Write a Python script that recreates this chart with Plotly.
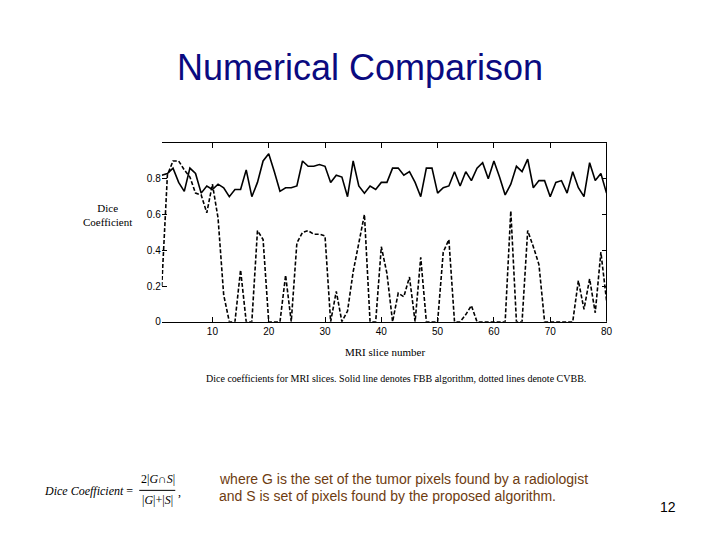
import plotly.graph_objects as go

slices = list(range(1, 81))
fbb = [0.82, 0.83, 0.86, 0.78, 0.73, 0.86, 0.83, 0.72, 0.76, 0.74,
       0.77, 0.75, 0.70, 0.74, 0.74, 0.85, 0.70, 0.78, 0.90, 0.94,
       0.84, 0.73, 0.75, 0.75, 0.76, 0.90, 0.87, 0.87, 0.88, 0.87,
       0.78, 0.82, 0.81, 0.70, 0.90, 0.76, 0.72, 0.76, 0.74, 0.78,
       0.78, 0.86, 0.86, 0.82, 0.84, 0.78, 0.70, 0.86, 0.86, 0.72,
       0.75, 0.76, 0.84, 0.76, 0.84, 0.79, 0.86, 0.89, 0.80, 0.90,
       0.81, 0.71, 0.77, 0.87, 0.84, 0.91, 0.75, 0.79, 0.79, 0.70,
       0.78, 0.79, 0.72, 0.84, 0.75, 0.70, 0.89, 0.79, 0.83, 0.72]
cvbb = [0.20, 0.82, 0.90, 0.90, 0.85, 0.81, 0.72, 0.71, 0.61, 0.77,
        0.58, 0.15, 0.00, 0.00, 0.29, 0.00, 0.00, 0.51, 0.46, 0.00,
        0.00, 0.00, 0.26, 0.00, 0.44, 0.50, 0.51, 0.49, 0.49, 0.48,
        0.00, 0.17, 0.00, 0.06, 0.28, 0.45, 0.60, 0.00, 0.00, 0.42,
        0.27, 0.00, 0.16, 0.14, 0.25, 0.00, 0.36, 0.00, 0.00, 0.00,
        0.39, 0.46, 0.00, 0.00, 0.04, 0.09, 0.00, 0.00, 0.00, 0.00,
        0.00, 0.00, 0.62, 0.00, 0.00, 0.51, 0.42, 0.32, 0.00, 0.00,
        0.00, 0.00, 0.00, 0.00, 0.23, 0.07, 0.24, 0.05, 0.39, 0.12]
x_ticks = [10, 20, 30, 40, 50, 60, 70, 80]
y_ticks = [0, 0.2, 0.4, 0.6, 0.8]
y_tick_labels = ["0", "0.2", "0.4", "0.6", "0.8"]

W, H = 720, 540
def px(x):
    return ((x - 6) / 0.99) / W
def py(y):
    return 1 - ((y - 5) / 0.99) / H

fig = go.Figure()
fig.add_trace(go.Scatter(x=slices, y=fbb, mode="lines", name="FBB",
                         line=dict(color="black", width=1.6)))
fig.add_trace(go.Scatter(x=slices, y=cvbb, mode="lines", name="CVBB",
                         line=dict(color="black", width=1.6, dash="4px,2px")))

serif = "Liberation Serif, Times New Roman, serif"
sans = "Liberation Sans, Arial, sans-serif"

fig.update_layout(
    width=W, height=H,
    margin=dict(l=0, r=0, t=0, b=0),
    paper_bgcolor="white", plot_bgcolor="white",
    showlegend=False,
    xaxis=dict(domain=[px(159.5), px(603.5)], range=[1, 80],
               tickvals=x_ticks, ticks="inside", ticklen=5, tickcolor="black",
               mirror="ticks", showline=True, linecolor="black", linewidth=1,
               showgrid=False, zeroline=False,
               tickfont=dict(family=sans, size=10, color="black")),
    yaxis=dict(domain=[py(318.5), py(140)], range=[0, 1],
               tickvals=y_ticks, ticktext=y_tick_labels,
               ticks="inside", ticklen=5, tickcolor="black",
               mirror="ticks", showline=False,
               showgrid=False, zeroline=False,
               tickfont=dict(family=sans, size=10, color="black")),
)

# right border line
fig.add_shape(type="line", xref="x domain", yref="y domain",
              x0=1, x1=1, y0=0, y1=1, line=dict(color="black", width=1))

ann = []
ann.append(dict(x=px(357), y=py(64), text="Numerical Comparison",
                font=dict(family=sans, size=36, color="#0a0a80")))
ann.append(dict(x=px(105), y=py(212), text="Dice<br>Coefficient",
                font=dict(family=serif, size=11, color="black")))
ann.append(dict(x=px(382), y=py(349), text="MRI slice number",
                font=dict(family=serif, size=11, color="black")))
ann.append(dict(x=px(393), y=py(375),
                text="Dice coefficients for MRI slices. Solid line denotes FBB algorithm, dotted lines denote CVBB.",
                font=dict(family=serif, size=10, color="black")))
ann.append(dict(x=px(133), y=py(488), text="<i>Dice Coefficient</i> =", xanchor="right",
                font=dict(family=serif, size=12, color="black")))
ann.append(dict(x=px(156), y=py(476), text="2|<i>G</i>∩<i>S</i>|",
                font=dict(family=serif, size=12, color="black")))
ann.append(dict(x=px(155), y=py(497), text="|<i>G</i>|+|<i>S</i>|",
                font=dict(family=serif, size=12, color="black")))
ann.append(dict(x=px(174), y=py(489), text=",", xanchor="left",
                font=dict(family=serif, size=12, color="black")))
ann.append(dict(x=px(215), y=py(476), xanchor="left",
                text="where G is the set of the tumor pixels found by a radiologist",
                font=dict(family=sans, size=14, color="#6e3c10")))
ann.append(dict(x=px(215), y=py(493), xanchor="left",
                text="and S is set of pixels found by the proposed algorithm.",
                font=dict(family=sans, size=14, color="#6e3c10")))
ann.append(dict(x=px(665), y=py(504), text="12",
                font=dict(family=sans, size=14, color="black")))
for a in ann:
    a.setdefault("xanchor", "center")
    fig.add_annotation(xref="paper", yref="paper", showarrow=False,
                       yanchor="middle", **a)

fig.add_shape(type="line", xref="paper", yref="paper",
              x0=px(137), x1=px(173), y0=py(487), y1=py(487),
              line=dict(color="black", width=1))

fig.write_html("out.html")
